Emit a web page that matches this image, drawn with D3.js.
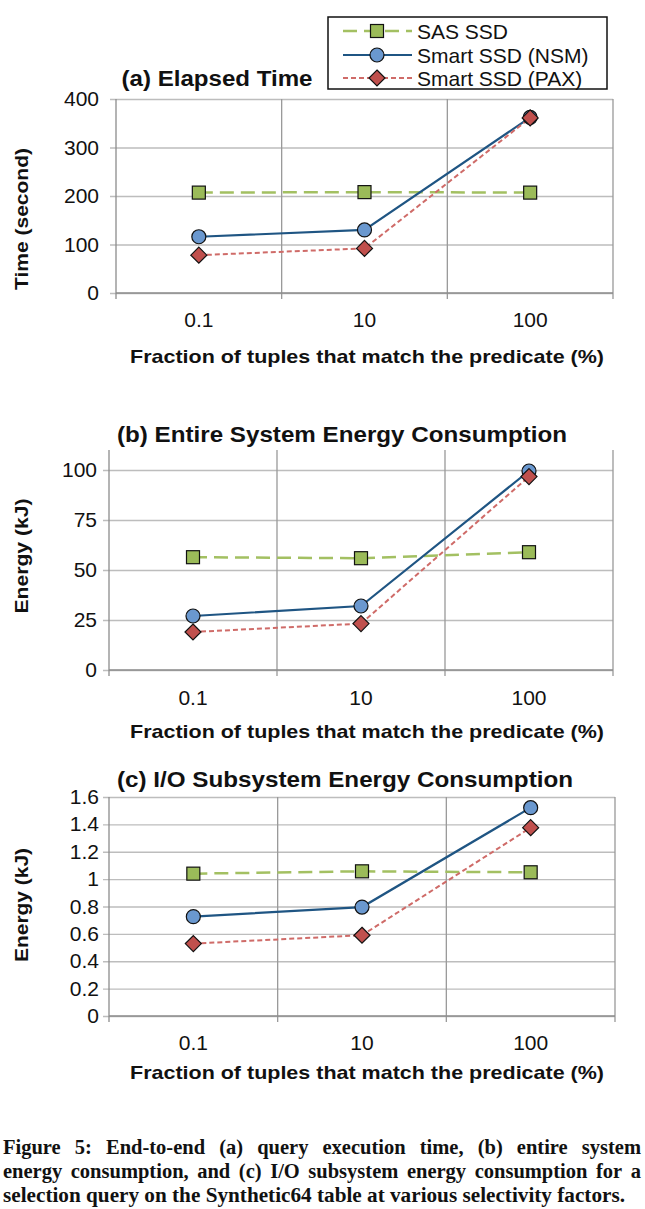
<!DOCTYPE html>
<html><head><meta charset="utf-8">
<script src="https://cdn.jsdelivr.net/npm/d3@7/dist/d3.min.js"></script>
<style>
html,body{margin:0;padding:0;background:#fff;}
svg{display:block;}
</style>
</head><body>
<script>
// ---- data ----
const categories = ["0.1", "10", "100"];
const seriesNames = ["SAS SSD", "Smart SSD (NSM)", "Smart SSD (PAX)"];
const sasTime = [207, 208, 207];
const nsmTime = [116, 130, 362];
const paxTime = [78, 92, 361];
const sasSysEnergy = [56.4, 55.9, 58.9];
const nsmSysEnergy = [27, 32, 99.5];
const paxSysEnergy = [19, 23.2, 96.7];
const sasIoEnergy = [1.04, 1.057, 1.05];
const nsmIoEnergy = [0.726, 0.796, 1.522];
const paxIoEnergy = [0.529, 0.59, 1.376];
const ticksTime = [0, 100, 200, 300, 400];
const ticksSys = [0, 25, 50, 75, 100];
const ticksIo = [0, 0.2, 0.4, 0.6, 0.8, 1, 1.2, 1.4, 1.6];
const panelTitles = ["(a) Elapsed Time", "(b) Entire System Energy Consumption", "(c) I/O Subsystem Energy Consumption"];
const yTitles = ["Time (second)", "Energy (kJ)", "Energy (kJ)"];
const xTitle = "Fraction of tuples that match the predicate (%)";
const captionLines = [
  "Figure 5: End-to-end (a) query execution time, (b) entire system",
  "energy consumption, and (c) I/O subsystem energy consumption for a",
  "selection query on the Synthetic64 table at various selectivity factors."
];

// ---- style ----
const W = 645, H = 1209;
const SANS = "'Liberation Sans', Arial, sans-serif";
const SERIF = "'Liberation Serif', 'Times New Roman', serif";
const styles = [
  {line: "#a3c062", fill: "#9bbb59", dash: "14,7", width: 2.5, shape: "square"},
  {line: "#1f5583", fill: "#6a98cf", dash: null, width: 2.2, shape: "circle"},
  {line: "#cf6b68", fill: "#c0504d", dash: "5,3", width: 2, shape: "diamond"}
];

const svg = d3.select("body").append("svg").attr("width", W).attr("height", H)
  .style("font-family", SANS);

function marker(g, shape, fill, x, y) {
  if (shape === "square") {
    g.append("rect").attr("x", x - 6.5).attr("y", y - 6.5).attr("width", 13).attr("height", 13)
      .attr("fill", fill).attr("stroke", "#111").attr("stroke-width", 1.2);
  } else if (shape === "circle") {
    g.append("circle").attr("cx", x).attr("cy", y).attr("r", 7)
      .attr("fill", fill).attr("stroke", "#111").attr("stroke-width", 1.2);
  } else {
    const s = 8;
    g.append("path").attr("d", `M${x},${y - s}L${x + s},${y}L${x},${y + s}L${x - s},${y}Z`)
      .attr("fill", fill).attr("stroke", "#111").attr("stroke-width", 1.2);
  }
}

const panels = [
  {series: [sasTime, nsmTime, paxTime], ticks: ticksTime, max: 400, left: 116, right: 613, top: 99, bottom: 293,
   labelGap: 17, titleX: 217, titleY: 86, titleW: 191, yTitleW: 142, xLabY: 327, xTitleY: 363, yTitleY: 219, fmt: d => d},
  {series: [sasSysEnergy, nsmSysEnergy, paxSysEnergy], ticks: ticksSys, max: 110, left: 109, right: 613, top: 450, bottom: 670,
   labelGap: 12, titleX: 342, titleY: 442, titleW: 450, yTitleW: 115, xLabY: 705, xTitleY: 738, yTitleY: 556, fmt: d => d},
  {series: [sasIoEnergy, nsmIoEnergy, paxIoEnergy], ticks: ticksIo, max: 1.6, left: 109, right: 615, top: 797, bottom: 1016,
   labelGap: 10, titleX: 345, titleY: 787, titleW: 456, yTitleW: 114, xLabY: 1050, xTitleY: 1079, yTitleY: 905, fmt: d => String(+d.toFixed(1))}
];

panels.forEach((p, pi) => {
  const g = svg.append("g");
  const x = d3.scaleBand().domain(categories).range([p.left, p.right]);
  const y = d3.scaleLinear().domain([0, p.max]).range([p.bottom, p.top]);

  // horizontal gridlines + left ticks
  const ya = d3.axisLeft(y).tickValues(p.ticks).tickSize(-(p.right - p.left)).tickFormat("");
  const gy = g.append("g").attr("transform", `translate(${p.left},0)`).call(ya);
  gy.select(".domain").remove();
  gy.selectAll(".tick line").attr("stroke", "#bdbdbd").attr("stroke-width", 1.3).attr("x1", -6);

  // tick labels
  g.selectAll(".ylab").data(p.ticks).enter().append("text")
    .attr("x", p.left - p.labelGap).attr("y", d => y(d) + 7)
    .attr("text-anchor", "end").attr("font-size", 21).attr("fill", "#111")
    .text(p.fmt);

  // vertical gridlines at band boundaries
  const bounds = categories.map(c => x(c)).concat([p.right]);
  g.selectAll(".vg").data(bounds).enter().append("line")
    .attr("x1", d => d).attr("x2", d => d).attr("y1", p.top).attr("y2", p.bottom + 6)
    .attr("stroke", d => d === p.left ? "#8c8c8c" : "#999").attr("stroke-width", 1.3);
  // bottom axis line
  g.append("line").attr("x1", p.left).attr("x2", p.right).attr("y1", p.bottom).attr("y2", p.bottom)
    .attr("stroke", "#8c8c8c").attr("stroke-width", 1.5);

  // x labels
  g.selectAll(".xlab").data(categories).enter().append("text")
    .attr("x", d => x(d) + x.bandwidth() / 2).attr("y", p.xLabY)
    .attr("text-anchor", "middle").attr("font-size", 21).attr("fill", "#111").text(d => d);

  // series
  p.series.forEach((vals, si) => {
    const st = styles[si];
    const line = d3.line().x((d, i) => x(categories[i]) + x.bandwidth() / 2).y(d => y(d));
    g.append("path").attr("d", line(vals)).attr("fill", "none")
      .attr("stroke", st.line).attr("stroke-width", st.width)
      .attr("stroke-dasharray", st.dash);
  });
  p.series.forEach((vals, si) => {
    const st = styles[si];
    vals.forEach((v, i) => marker(g, st.shape, st.fill, x(categories[i]) + x.bandwidth() / 2, y(v)));
  });

  // titles
  g.append("text").attr("x", p.titleX).attr("y", p.titleY).attr("text-anchor", "middle")
    .attr("font-size", 22).attr("font-weight", "bold").attr("fill", "#111")
    .attr("textLength", p.titleW).attr("lengthAdjust", "spacingAndGlyphs").text(panelTitles[pi]);
  g.append("text").attr("x", 367).attr("y", p.xTitleY).attr("text-anchor", "middle")
    .attr("font-size", 19).attr("font-weight", "bold").attr("fill", "#111")
    .attr("textLength", 474).attr("lengthAdjust", "spacingAndGlyphs").text(xTitle);
  g.append("text").attr("transform", `translate(28,${p.yTitleY}) rotate(-90)`).attr("text-anchor", "middle")
    .attr("font-size", 19).attr("font-weight", "bold").attr("fill", "#111")
    .attr("textLength", p.yTitleW).attr("lengthAdjust", "spacingAndGlyphs").text(yTitles[pi]);
});

// legend
const lg = svg.append("g");
lg.append("rect").attr("x", 328).attr("y", 17).attr("width", 279).attr("height", 72)
  .attr("fill", "#fff").attr("stroke", "#111").attr("stroke-width", 1.5);
const legendY = [31, 55, 78];
seriesNames.forEach((name, i) => {
  const st = styles[i];
  lg.append("line").attr("x1", 343).attr("x2", 412).attr("y1", legendY[i]).attr("y2", legendY[i])
    .attr("stroke", st.line).attr("stroke-width", st.width).attr("stroke-dasharray", st.dash);
  marker(lg, st.shape, st.fill, 377, legendY[i]);
  lg.append("text").attr("x", 417).attr("y", legendY[i] + 7.5).attr("font-size", 21).attr("fill", "#111").text(name);
});

// caption (justified)
const capBase = [1154, 1178, 1202];
const CAP_FS = 20.5;
captionLines.forEach((ln, li) => {
  const t = svg.append("text").attr("y", capBase[li]).attr("font-family", SERIF)
    .attr("font-size", CAP_FS).attr("font-weight", "bold").attr("fill", "#111");
  const words = ln.split(" ");
  if (li < captionLines.length - 1) {
    const widths = words.map(w => {
      const tmp = svg.append("text").attr("font-family", SERIF).attr("font-size", CAP_FS)
        .attr("font-weight", "bold").text(w);
      const wd = tmp.node().getComputedTextLength(); tmp.remove(); return wd;
    });
    const total = d3.sum(widths);
    const gap = (641 - 3 - total) / (words.length - 1);
    let cx = 3;
    words.forEach((w, i) => { t.append("tspan").attr("x", cx).text(w); cx += widths[i] + gap; });
  } else {
    t.attr("x", 3).attr("textLength", 622).attr("lengthAdjust", "spacingAndGlyphs").text(ln);
  }
});
</script>
</body></html>
